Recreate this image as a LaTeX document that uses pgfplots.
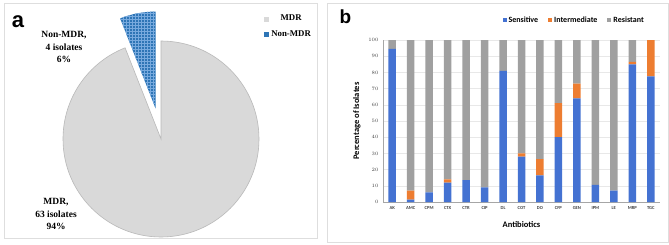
\documentclass[border=0pt]{standalone}
\usepackage{pgfplots}
\pgfplotsset{compat=1.18}
\usetikzlibrary{patterns}
\usepackage{fontspec}
\setmainfont{Liberation Serif}
\setsansfont{Carlito}
\newfontfamily\arial{Liberation Sans}
\definecolor{mdrgray}{RGB}{217,217,217}
\definecolor{mdredge}{RGB}{185,185,185}
\definecolor{nonblue}{RGB}{46,117,182}
\definecolor{nonlight}{RGB}{120,170,222}
\definecolor{sblue}{RGB}{68,114,210}
\definecolor{iorange}{RGB}{237,125,49}
\definecolor{rgray}{RGB}{160,160,160}
\definecolor{framec}{RGB}{222,222,222}
\begin{document}
\begin{tikzpicture}[x=1pt,y=1pt]
\useasboundingbox (0,0) rectangle (669,244);
\fill[white] (0,0) rectangle (669,244);
\draw[framec] (4,241) rectangle (317,6);
\draw[framec] (327,241) rectangle (668.5,2);
\node[font=\arial\bfseries\fontsize{22}{22}\selectfont] at (18,222) {a};
\node[font=\arial\bfseries\fontsize{19}{19}\selectfont] at (345.5,227) {b};
% ---------------- pie ----------------
\begin{axis}[at={(0pt,0pt)}, anchor=south west, scale only axis,
  width=330pt, height=244pt, xmin=0, xmax=330, ymin=0, ymax=244,
  hide axis, clip=false,
  legend style={draw=none, fill=none, at={(axis description cs:0.79,0.955)}, anchor=north west,
    font=\bfseries\fontsize{8.8}{10}\selectfont, row sep=4pt,
    /tikz/every odd column/.append style={column sep=1pt}}]
\def\mdr{63}
\def\nonmdr{4}
\pgfmathsetmacro{\angA}{\nonmdr/(\mdr+\nonmdr)*360}
\pgfmathsetmacro{\angEnd}{90-360+\angA}
\pgfmathsetmacro{\angB}{90+\angA}
\pgfmathsetmacro{\angMid}{90+\angA/2}
\fill[mdrgray, draw=mdredge, line width=0.6pt] (axis cs:161,105) -- ++(90:98pt) arc[start angle=90, end angle=\angEnd, radius=98pt] -- cycle;
\begin{scope}[shift={(\angMid:34pt)}]
\fill[nonblue] (axis cs:162,102) -- ++(90:97pt) arc[start angle=90, end angle=\angB, radius=97pt] -- cycle;
\fill[pattern=grid, pattern color=nonlight] (axis cs:162,102) -- ++(90:97pt) arc[start angle=90, end angle=\angB, radius=97pt] -- cycle;
\end{scope}
\node[align=center, font=\bfseries\fontsize{9.5}{12.5}\selectfont] at (axis cs:64,197) {Non-MDR,\\4 isolates\\6\%};
\node[align=center, font=\bfseries\fontsize{9.5}{12.5}\selectfont] at (axis cs:56,30) {MDR,\\63 isolates\\94\%};
\addlegendimage{legend image code/.code={\fill[mdrgray] (0pt,-2pt) rectangle (4pt,2pt);}}
\addlegendentry{MDR}
\addlegendimage{legend image code/.code={\fill[nonblue] (0pt,-2pt) rectangle (4pt,2pt);}}
\addlegendentry{Non-MDR}
\end{axis}
% ---------------- bars ----------------
\begin{axis}[at={(383pt,42pt)}, anchor=south west, scale only axis,
  width=277pt, height=162pt,
  ybar stacked, bar width=7.5pt,
  xmin=-0.5, xmax=14.5, ymin=0, ymax=100,
  xtick={0,...,14},
  xticklabels={AK,AMC,CPM,CTX,CTR,CIP,DL,COT,DO,CFP,GEN,IPM,LE,MRP,TGC},
  ytick={0,10,...,100},
  ymajorgrids, grid style={gray!18, line width=0.5pt},
  axis x line*=bottom, axis y line*=left,
  axis line style={gray!70, -},
  major tick length=0pt,
  tick label style={font=\sffamily\bfseries\fontsize{4.6}{5}\selectfont, text=black!75},
  xticklabel style={yshift=-1pt},
  yticklabel style={xshift=-1pt},
  xlabel={Antibiotics}, ylabel={Percentage of Isolates},
  label style={font=\sffamily\bfseries\fontsize{8.5}{10}\selectfont},
  xlabel style={at={(axis description cs:0.5,-0.142)}, anchor=center},
  ylabel style={at={(axis description cs:-0.094,0.5)}, anchor=center},
  legend columns=3,
  legend style={draw=none, fill=none, at={(axis description cs:0.69,1.123)}, anchor=center,
    font=\sffamily\bfseries\fontsize{8}{9}\selectfont,
    /tikz/every even column/.append style={column sep=8pt}},
  legend image code/.code={\fill[#1] (0pt,-2pt) rectangle (4pt,2pt);},
]
\addplot[fill=sblue, draw=none] coordinates {(0,94.5) (1,1.5) (2,6) (3,12) (4,13.5) (5,9) (6,81) (7,28) (8,16.5) (9,40) (10,64) (11,10.5) (12,7) (13,85) (14,77.5)};
\addlegendentry{Sensitive}
\addplot[fill=iorange, draw=none] coordinates {(0,0) (1,5.5) (2,0) (3,2) (4,0) (5,0) (6,0) (7,2) (8,10) (9,21) (10,9) (11,0) (12,0) (13,1.5) (14,22.5)};
\addlegendentry{Intermediate}
\addplot[fill=rgray, draw=none] coordinates {(0,5.5) (1,93) (2,94) (3,86) (4,86.5) (5,91) (6,19) (7,70) (8,73.5) (9,39) (10,27) (11,89.5) (12,93) (13,13.5) (14,0)};
\addlegendentry{Resistant}
\end{axis}
\end{tikzpicture}
\end{document}
